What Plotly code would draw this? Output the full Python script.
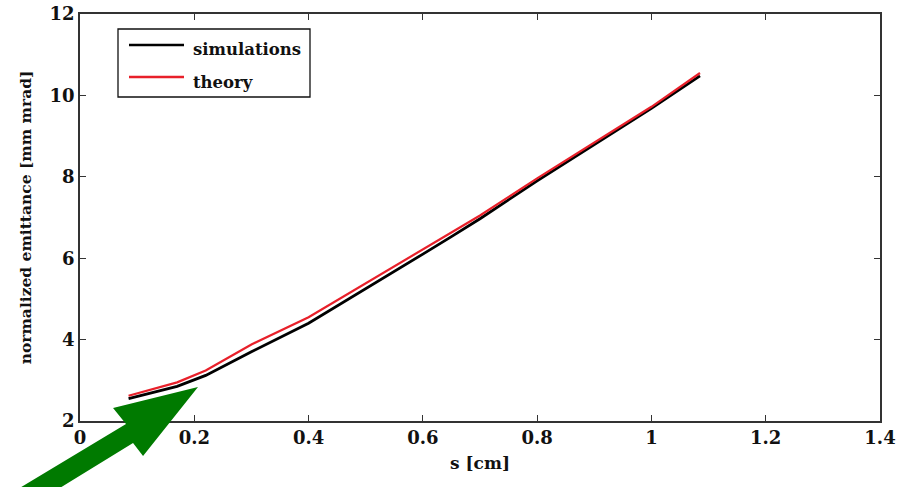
import plotly.graph_objects as go

s_cm = [0.085, 0.12, 0.17, 0.22, 0.30, 0.40, 0.50, 0.60, 0.65, 0.70, 0.80, 0.94, 1.00, 1.085]
simulations = [2.55, 2.67, 2.85, 3.12, 3.70, 4.40, 5.24, 6.10, 6.53, 6.97, 7.90, 9.15, 9.68, 10.48]
theory = [2.62, 2.76, 2.95, 3.24, 3.88, 4.55, 5.38, 6.20, 6.63, 7.05, 7.96, 9.18, 9.72, 10.55]

x_ticks = [0, 0.2, 0.4, 0.6, 0.8, 1, 1.2, 1.4]
x_tick_labels = ["0", "0.2", "0.4", "0.6", "0.8", "1", "1.2", "1.4"]
y_ticks = [2, 4, 6, 8, 10, 12]
series_names = ["simulations", "theory"]
series_colors = ["#000000", "#e8202a"]

FONT = "DejaVu Serif"
TXT = "#111111"

W, H = 906, 487
L, R, T, B = 80, 26, 14, 66


def px(xp, yp):
    return (xp - L) / (W - L - R), (H - B - yp) / (H - T - B)


fig = go.Figure()
fig.add_trace(go.Scatter(x=s_cm, y=simulations, mode="lines", name=series_names[0],
                         line=dict(color=series_colors[0], width=2.8), showlegend=False))
fig.add_trace(go.Scatter(x=s_cm, y=theory, mode="lines", name=series_names[1],
                         line=dict(color=series_colors[1], width=2.2), showlegend=False))

# manual legend box
x0, y0 = px(118, 97)
x1, y1 = px(310, 29)
fig.add_shape(type="rect", xref="paper", yref="paper", x0=x0, y0=y0, x1=x1, y1=y1,
              line=dict(color=TXT, width=1.3), fillcolor="white", layer="above")
for i, (name, col) in enumerate(zip(series_names, series_colors)):
    ly = 45 + 32 * i
    a0, b0 = px(129, ly)
    a1, _ = px(184, ly)
    fig.add_shape(type="line", xref="paper", yref="paper", x0=a0, y0=b0, x1=a1, y1=b0,
                  line=dict(color=col, width=2.5), layer="above")
    tx, ty = px(191, ly + 5)
    fig.add_annotation(xref="paper", yref="paper", x=tx, y=ty, xanchor="left", yanchor="middle",
                       text=f"<b>{name}</b>", showarrow=False,
                       font=dict(family=FONT, size=16.5, color=TXT))

# green arrow
arrow_px = [(198, 387), (143, 456), (133, 443), (24, 510), (-17, 510), (126, 424), (113, 408)]
pts = [px(a, b) for a, b in arrow_px]
path = "M " + " L ".join(f"{a:.4f},{b:.4f}" for a, b in pts) + " Z"
fig.add_shape(type="path", xref="paper", yref="paper", path=path,
              fillcolor="#007a00", line=dict(width=0), layer="above")

axis_common = dict(showgrid=False, zeroline=False, showline=True, linecolor="#333333",
                   linewidth=1.5, mirror="ticks", ticks="inside", ticklen=6,
                   tickcolor="#333333", tickwidth=1.2, automargin=False,
                   tickfont=dict(family=FONT, size=18, color=TXT, weight="bold"))

fig.update_xaxes(range=[0, 1.4], tickvals=x_ticks, ticktext=x_tick_labels,
                 title=dict(text="<b>s [cm]</b>", font=dict(family=FONT, size=17, color=TXT),
                            standoff=10),
                 **axis_common)
fig.update_yaxes(range=[2, 12], tickvals=y_ticks,
                 title=dict(text="<b>normalized emittance [mm mrad]</b>",
                            font=dict(family=FONT, size=15.5, color=TXT), standoff=14),
                 **axis_common)

fig.update_layout(
    width=W, height=H,
    margin=dict(l=L, r=R, t=T, b=B),
    paper_bgcolor="white", plot_bgcolor="white",
    showlegend=False,
)

fig.write_html("out.html")
